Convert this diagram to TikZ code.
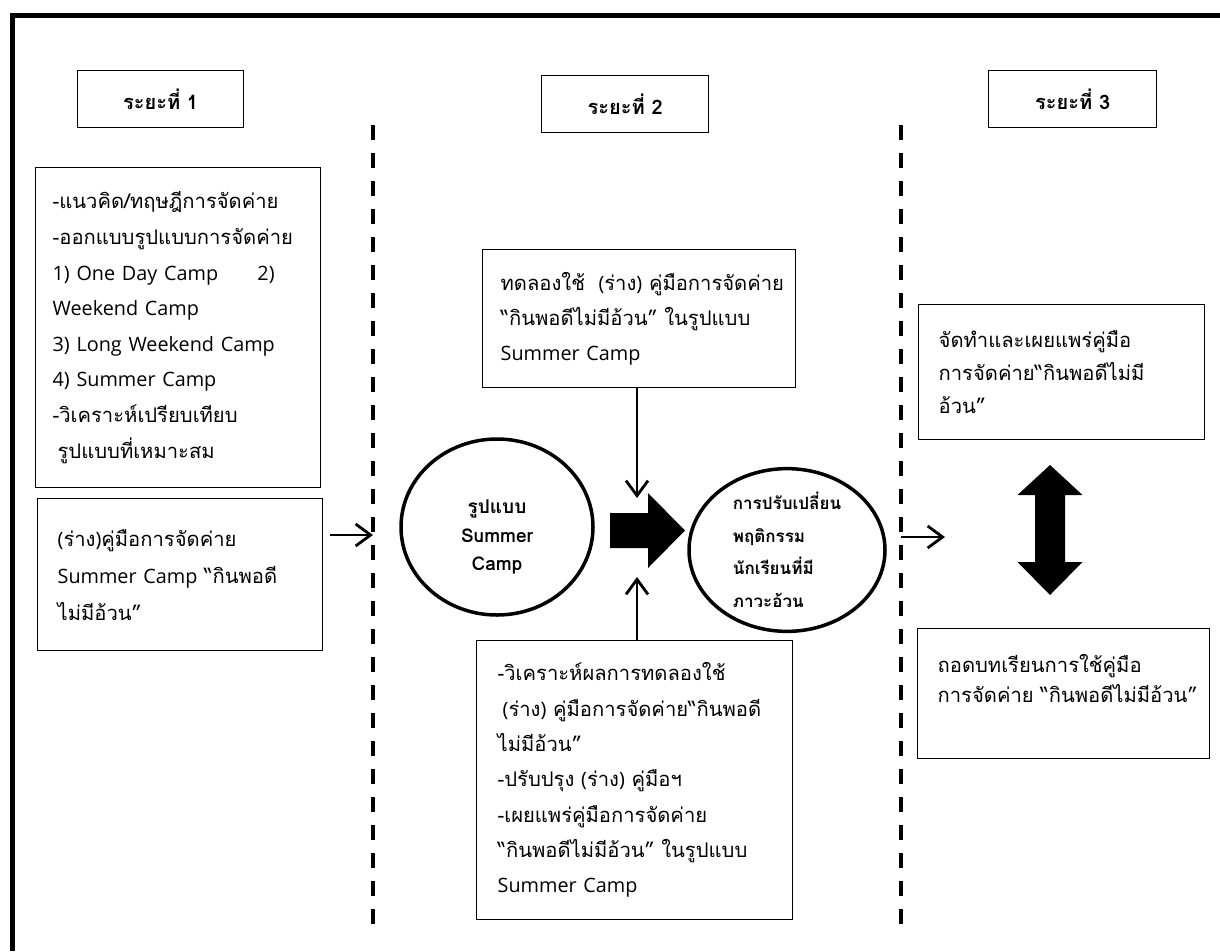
\documentclass[tikz,border=0pt]{standalone}
\usepackage{fontspec}
\setmainfont[Script=Thai]{Loma}
\newfontfamily\latf{Open Sans}[Scale=0.98]
\newcommand{\lt}[1]{{\latf #1}}
\newcommand{\tline}[1]{\mbox{#1}}
\usetikzlibrary{arrows.meta,shapes.geometric}
\begin{document}
\begin{tikzpicture}[x=1pt,y=-1pt,
  box/.style={draw, line width=1.3pt, rectangle, anchor=north west, align=left,
    inner ysep=0pt},
  hbox/.style={draw, line width=1.3pt, rectangle, anchor=north west, align=center,
    minimum width=#1, minimum height=57pt, font=\fontsize{20}{22}\selectfont\bfseries},
  ring/.style={draw, line width=3.5pt, ellipse, inner sep=0pt},
  divider/.style={line width=3.5pt, dash pattern=on 15pt off 13pt},
  thinarrow/.style={line width=2.8pt, -{Straight Barb[length=15pt,width=22pt,line width=2.8pt]}},
  body/.style={font=\fontsize{20.2}{#1}\selectfont},
]
\useasboundingbox (0,0) rectangle (1220,951);
% outer frame
\draw[line width=5pt] (12.5,951) -- (12.5,15.5) -- (1220,15.5);

% headers
\node[hbox=166pt] (h1) at (77,70) {ระยะที่ 1};
\node[hbox=167pt] (h2) at (541,75) {ระยะที่ 2};
\node[hbox=168pt] (h3) at (988,70) {ระยะที่ 3};

% dividers
\coordinate (d1t) at (373,125); \coordinate (d1b) at (373,928);
\coordinate (d2t) at (901,125); \coordinate (d2b) at (901,928);
\draw[divider] (d1t) -- (d1b);
\draw[divider] (d2t) -- (d2b);

% phase 1 boxes
\node[box, inner xsep=17pt, text width=251pt, minimum height=320pt, body=35.6] (b1) at (35,167)
 {\tline{-แนวคิด/ทฤษฎีการจัดค่าย}\\
  \tline{-ออกแบบรูปแบบการจัดค่าย}\\
  \makebox[222pt][l]{\lt{1) One Day Camp}\hfill\lt{2)}}\\
  \tline{\lt{Weekend Camp}}\\
  \tline{\lt{3) Long Weekend Camp}}\\
  \tline{\lt{4) Summer Camp}}\\
  \tline{-วิเคราะห์เปรียบเทียบ}\\
  \tline{\hspace*{5pt}รูปแบบที่เหมาะสม}};
\node[box, inner xsep=20pt, text width=245pt, minimum height=152pt, body=37] (b2) at (37,498)
 {\tline{\lt{(}ร่าง\lt{)}คู่มือการจัดค่าย}\\
  \tline{\lt{Summer Camp} “กินพอดี}\\
  \tline{ไม่มีอ้วน”}};
\coordinate (a1s) at (330,535);
\coordinate (a1e) at (373,535);
\draw[thinarrow] (a1s) -- (a1e);

% phase 2
\node[box, inner xsep=18pt, text width=277pt, minimum height=138pt, body=35] (tm) at (482,249)
 {\tline{ทดลองใช้\lt{\ \ (}ร่าง\lt{) }คู่มือการจัดค่าย}\\
  \tline{“กินพอดีไม่มีอ้วน” ในรูปแบบ}\\
  \tline{\lt{Summer Camp}}};
\node[box, inner xsep=21pt, text width=274pt, minimum height=279pt, body=35.3] (bm) at (476,640)
 {\tline{-วิเคราะห์ผลการทดลองใช้}\\
  \tline{\hspace*{5pt}\lt{(}ร่าง\lt{) }คู่มือการจัดค่าย“กินพอดี}\\
  \tline{ไม่มีอ้วน”}\\
  \tline{-ปรับปรุง \lt{(}ร่าง\lt{) }คู่มือฯ}\\
  \tline{-เผยแพร่คู่มือการจัดค่าย}\\
  \tline{“กินพอดีไม่มีอ้วน” ในรูปแบบ}\\
  \tline{\lt{Summer Camp}}};

\node[ring, minimum width=192pt, minimum height=176pt] (c1) at (497,527) {};
\node[align=center, font=\fontsize{19}{28.5}\selectfont\bfseries] (c1t) at (497,537)
 {รูปแบบ\\ Summer\\ Camp};
\node[ring, minimum width=196pt, minimum height=156pt, align=left,
  font=\fontsize{17}{32.5}\selectfont\bfseries] (c2) at (787,550)
 {การปรับเปลี่ยน\\ พฤติกรรม\\ นักเรียนที่มี\\ ภาวะอ้วน};

% big block arrow between circles
\fill (610,513) -- (648,513) -- (648,493) -- (685,530.5) -- (648,568) -- (648,548) -- (610,548) -- cycle;

\coordinate (a2e) at (637,498);
\draw[thinarrow] (tm.south -| a2e) -- (a2e);
\coordinate (a3e) at (637,577);
\draw[thinarrow] (bm.north -| a3e) -- (a3e);

% phase 3
\node[box, inner xsep=20pt, text width=246pt, minimum height=135pt, body=33] (rt) at (918,304)
 {\tline{จัดทำและเผยแพร่คู่มือ}\\
  \tline{การจัดค่าย“กินพอดีไม่มี}\\
  \tline{อ้วน”}};
\node[box, inner xsep=20pt, text width=252pt, minimum height=130pt, body=30] (rb) at (917,628)
 {\tline{ถอดบทเรียนการใช้คู่มือ}\\
  \tline{การจัดค่าย “กินพอดีไม่มีอ้วน”}\\
  \mbox{}};

\coordinate (a4s) at (901,537);
\coordinate (a4e) at (945,537);
\draw[thinarrow] (a4s) -- (a4e);

% double block arrow
\fill (1050,465) -- (1082.5,495) -- (1065,495) -- (1065,562) -- (1082.5,562)
  -- (1050,595) -- (1017.5,562) -- (1035,562) -- (1035,495) -- (1017.5,495) -- cycle;
\end{tikzpicture}
\end{document}
